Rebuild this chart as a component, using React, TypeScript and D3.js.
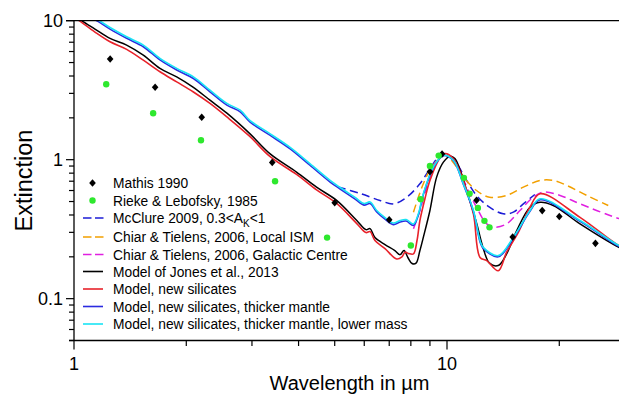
import React from "react";
import * as d3 from "d3";

type P = [number, number];

// ---- Data (wavelength in µm, extinction) ----
const mathis: P[] = [
  [1.25, 5.3], [1.65, 3.32], [2.2, 2.02], [3.4, 0.956], [5.0, 0.49], [7.0, 0.37],
  [9.0, 0.82], [9.7, 1.1], [12.0, 0.51], [15.0, 0.278], [18.0, 0.43], [20.0, 0.39], [25.0, 0.25],
];

const rieke: P[] = [
  [1.22, 3.49], [1.63, 2.16], [2.19, 1.38], [3.46, 0.7], [4.77, 0.275], [8.0, 0.241],
  [8.5, 0.52], [9.0, 0.9], [9.5, 1.07], [11.1, 0.74], [11.5, 0.57], [12.1, 0.45], [12.6, 0.363], [13.0, 0.326],
];

const mcclure: P[] = [
  [5.1, 0.637], [5.85, 0.571], [6.61, 0.509], [7.18, 0.481], [7.8, 0.537], [8.46, 0.671], [9.0, 0.861],
  [9.48, 1.044], [9.88, 1.105], [10.4, 1.017], [11.29, 0.709], [12.0, 0.553], [13.0, 0.455],
  [14.15, 0.408], [15.06, 0.419], [16.02, 0.481], [17.2, 0.562],
];

const chiarLocal: P[] = [
  [8.13, 0.419], [8.64, 0.671], [9.17, 0.91], [9.88, 1.074], [10.62, 0.884], [11.17, 0.729], [12.0, 0.6],
  [13.0, 0.537], [14.45, 0.553], [16.02, 0.634], [17.76, 0.709], [19.27, 0.709], [20.94, 0.653],
  [23.69, 0.553], [27.06, 0.468],
];

const chiarGC: P[] = [
  [8.13, 0.318], [8.46, 0.431], [9.0, 0.749], [9.4, 0.99], [9.88, 1.074], [10.62, 0.936], [11.29, 0.634],
  [12.0, 0.455], [12.78, 0.345], [13.45, 0.327], [14.45, 0.345], [15.69, 0.431], [17.03, 0.537],
  [18.13, 0.584], [20.1, 0.553], [22.73, 0.481], [28.9, 0.377], [30, 0.37],
];

const jones: P[] = [
  [1.0, 10.9], [1.042, 10.1], [1.138, 8.71], [1.249, 7.46], [1.384, 6.68], [1.534, 5.65], [1.7, 4.54],
  [1.885, 3.94], [2.08, 3.34], [2.315, 2.68], [2.57, 2.16], [2.96, 1.54], [3.35, 1.105], [3.95, 0.814],
  [4.47, 0.634], [5.06, 0.509], [5.73, 0.365], [6.06, 0.314], [6.22, 0.319], [6.41, 0.275], [6.82, 0.245],
  [7.25, 0.222], [7.48, 0.207], [7.67, 0.222], [7.86, 0.197], [8.06, 0.179], [8.26, 0.18], [8.46, 0.222],
  [8.64, 0.276], [9.0, 0.431], [9.38, 0.749], [9.78, 0.961], [10.2, 1.06], [10.5, 1.02], [10.83, 0.85],
  [11.29, 0.6], [12.0, 0.35], [12.51, 0.23], [13.0, 0.18], [13.72, 0.173], [14.45, 0.21], [15.38, 0.309],
  [16.69, 0.455], [17.76, 0.494], [19.27, 0.468], [22.73, 0.345], [28.9, 0.234], [30, 0.225],
];

const newSil: P[] = [
  [1.0, 10.6], [1.042, 9.84], [1.138, 8.28], [1.249, 7.05], [1.384, 6.22], [1.534, 5.2], [1.7, 4.29],
  [1.885, 3.63], [2.09, 3.07], [2.315, 2.54], [2.57, 2.03], [2.96, 1.47], [3.35, 1.056], [3.95, 0.783],
  [4.47, 0.606], [5.06, 0.484], [5.73, 0.347], [6.06, 0.299], [6.22, 0.304], [6.41, 0.262], [6.82, 0.229],
  [7.33, 0.193], [7.57, 0.2], [7.72, 0.216], [7.9, 0.211], [8.13, 0.21], [8.31, 0.262], [8.46, 0.365],
  [8.73, 0.526], [9.0, 0.709], [9.6, 1.04], [9.88, 1.105], [10.4, 1.017], [11.06, 0.709], [11.77, 0.408],
  [12.26, 0.198], [12.78, 0.188], [13.72, 0.159], [14.45, 0.216], [15.53, 0.3], [16.69, 0.455],
  [17.76, 0.569], [22.73, 0.385], [28.9, 0.241], [30, 0.232],
];

const thickMantle: P[] = [
  [1.1, 10.6], [1.162, 9.85], [1.249, 8.7], [1.384, 7.47], [1.534, 6.5], [1.7, 5.22], [1.885, 4.42],
  [2.09, 3.84], [2.315, 3.08], [2.57, 2.47], [2.79, 2.21], [2.96, 1.87], [3.35, 1.5], [3.79, 1.2],
  [4.29, 0.912], [4.86, 0.69], [5.17, 0.615], [5.67, 0.52], [5.99, 0.471], [6.22, 0.483], [6.48, 0.42],
  [6.82, 0.373], [7.18, 0.341], [7.48, 0.356], [7.77, 0.362], [8.13, 0.337], [8.38, 0.4], [8.64, 0.56],
  [9.19, 0.875], [9.78, 1.07], [10.4, 0.985], [11.06, 0.665], [11.77, 0.425], [12.26, 0.257], [12.51, 0.23],
  [13.72, 0.2], [15.06, 0.272], [16.69, 0.425], [17.76, 0.515], [22.73, 0.36], [28.9, 0.238], [30, 0.23],
];

const lowerMass: P[] = [
  [1.1, 10.9], [1.162, 10.1], [1.249, 8.93], [1.384, 7.66], [1.534, 6.68], [1.7, 5.36], [1.885, 4.54],
  [2.09, 3.94], [2.315, 3.16], [2.57, 2.54], [2.79, 2.27], [2.96, 1.92], [3.35, 1.54], [3.79, 1.23],
  [4.29, 0.936], [4.86, 0.709], [5.17, 0.631], [5.67, 0.535], [5.99, 0.484], [6.22, 0.496], [6.48, 0.431],
  [6.82, 0.383], [7.18, 0.35], [7.48, 0.365], [7.77, 0.371], [8.13, 0.345], [8.38, 0.408], [8.64, 0.569],
  [9.19, 0.884], [9.78, 1.074], [10.4, 0.99], [11.06, 0.671], [11.77, 0.431], [12.26, 0.262], [12.51, 0.234],
  [13.72, 0.204], [15.06, 0.276], [16.69, 0.431], [17.76, 0.523], [22.73, 0.365], [28.9, 0.241], [30, 0.232],
];

const xMajor = [1, 10];
const xMinor = [2, 3, 4, 5, 6, 7, 8, 9, 20, 30];
const yMajor = [0.1, 1, 10];
const yMinor = [0.05, 0.06, 0.07, 0.08, 0.09, 0.2, 0.3, 0.4, 0.5, 0.6, 0.7, 0.8, 0.9, 2, 3, 4, 5, 6, 7, 8, 9];

const legendLabels = [
  "Mathis 1990",
  "Rieke & Lebofsky, 1985",
  "McClure 2009, 0.3<A",
  "Chiar & Tielens, 2006, Local ISM",
  "Chiar & Tielens, 2006, Galactic Centre",
  "Model of Jones et al., 2013",
  "Model, new silicates",
  "Model, new silicates, thicker mantle",
  "Model, new silicates, thicker mantle, lower mass",
];

const COL = {
  black: "#000000",
  green: "#2ee82e",
  mcclure: "#1c1cd6",
  orange: "#f2a000",
  magenta: "#e020e0",
  red: "#e8222a",
  blue: "#2b2be0",
  cyan: "#18e4f4",
};

const W = 619;
const H = 394;
const FONT = "'Liberation Sans', Arial, Helvetica, sans-serif";

export default function App() {
  const x = d3.scaleLog().domain([1, 30]).range([74, 74 + 373 * Math.log10(30)]);
  const y = d3.scaleLog().domain([0.05, 10]).range([340.5, 20.7]);
  const x0 = x(1);
  const yTop = y(10);
  const yBot = y(0.05);
  const xEnd = x(30);

  const line = d3
    .line<P>()
    .x((d) => x(d[0]))
    .y((d) => y(d[1]))
    .curve(d3.curveCatmullRom.alpha(0.5));

  const series: { data: P[]; color: string; dash?: string; w: number }[] = [
    { data: mcclure, color: COL.mcclure, dash: "8,4.5", w: 1.5 },
    { data: chiarLocal, color: COL.orange, dash: "8,4.5", w: 1.5 },
    { data: chiarGC, color: COL.magenta, dash: "8,4.5", w: 1.5 },
    { data: jones, color: COL.black, w: 1.5 },
    { data: newSil, color: COL.red, w: 1.6 },
    { data: thickMantle, color: COL.blue, w: 1.6 },
    { data: lowerMass, color: COL.cyan, w: 1.6 },
  ];

  const legendKinds = [
    { kind: "diamond", color: COL.black },
    { kind: "dot", color: COL.green },
    { kind: "dash", color: COL.mcclure },
    { kind: "dash", color: COL.orange },
    { kind: "dash", color: COL.magenta },
    { kind: "line", color: COL.black },
    { kind: "line", color: COL.red },
    { kind: "line", color: COL.blue },
    { kind: "line", color: COL.cyan },
  ];
  const legendY = (i: number) => 183 + i * 17.5 + (i >= 3 ? 1.5 : 0) - (i >= 5 ? 0.5 : 0);

  const diamond = "M0,-3.8L3.3,0L0,3.8L-3.3,0Z";

  return (
    <svg width={W} height={H} style={{ display: "block", position: "absolute", left: 0, top: 0 }} fontFamily={FONT}>
      <defs>
        <clipPath id="plotClip">
          <rect x={x0} y={yTop} width={xEnd - x0} height={yBot - yTop} />
        </clipPath>
      </defs>
      <rect width={W} height={H} fill="#fff" />

      <g clipPath="url(#plotClip)">
        {series.map((s, i) => (
          <path
            key={i}
            d={line(s.data) || ""}
            fill="none"
            stroke={s.color}
            strokeWidth={s.w}
            strokeDasharray={s.dash}
            strokeLinejoin="round"
          />
        ))}
        {mathis.map((d, i) => (
          <path key={"m" + i} d={diamond} transform={`translate(${x(d[0])},${y(d[1])})`} fill={COL.black} />
        ))}
        {rieke.map((d, i) => (
          <circle key={"r" + i} cx={x(d[0])} cy={y(d[1])} r={3.2} fill={COL.green} />
        ))}
      </g>

      {/* frame */}
      <line x1={x0} x2={x0} y1={yTop} y2={yBot} stroke="#000" strokeWidth={1.3} />
      <line x1={x0 - 5} x2={xEnd} y1={yBot} y2={yBot} stroke="#000" strokeWidth={1.3} />
      <line x1={x0 - 8} x2={xEnd} y1={yTop} y2={yTop} stroke="#000" strokeWidth={1.3} />

      {/* y ticks */}
      {yMajor.map((v) => (
        <g key={"ym" + v}>
          <line x1={x0 - 8} x2={x0} y1={y(v)} y2={y(v)} stroke="#000" strokeWidth={1.2} />
          <text x={x0 - 11} y={y(v) + 6.5} textAnchor="end" fontSize={18}>
            {v}
          </text>
        </g>
      ))}
      {yMinor.map((v) => (
        <line key={"yn" + v} x1={x0 - 5} x2={x0} y1={y(v)} y2={y(v)} stroke="#000" strokeWidth={1.2} />
      ))}

      {/* x ticks */}
      {xMajor.map((v) => (
        <g key={"xm" + v}>
          <line x1={x(v)} x2={x(v)} y1={yBot} y2={yBot + 9} stroke="#000" strokeWidth={1.2} />
          <text x={x(v)} y={370} textAnchor="middle" fontSize={18}>
            {v}
          </text>
        </g>
      ))}
      {xMinor.map((v) => (
        <line key={"xn" + v} x1={x(v)} x2={x(v)} y1={yBot} y2={yBot + 5.5} stroke="#000" strokeWidth={1.2} />
      ))}

      {/* axis titles */}
      <text x={(x0 + xEnd) / 2} y={390} textAnchor="middle" fontSize={20}>
        Wavelength in µm
      </text>
      <text transform={`translate(32,${(yTop + yBot) / 2}) rotate(-90)`} textAnchor="middle" fontSize={23.5}>
        Extinction
      </text>

      {/* legend */}
      {legendKinds.map((k, i) => {
        const ly = legendY(i);
        return (
          <g key={"lg" + i}>
            {k.kind === "diamond" && <path d={diamond} transform={`translate(92.5,${ly})`} fill={k.color} />}
            {k.kind === "dot" && <circle cx={92.5} cy={ly} r={3.2} fill={k.color} />}
            {k.kind === "dash" && (
              <line x1={83} x2={103.5} y1={ly} y2={ly} stroke={k.color} strokeWidth={1.5} strokeDasharray="8.5,3.5" />
            )}
            {k.kind === "line" && <line x1={83} x2={103} y1={ly} y2={ly} stroke={k.color} strokeWidth={1.6} />}
            <text x={113} y={ly + 5} fontSize={13.8}>
              {legendLabels[i]}
              {i === 2 && (
                <>
                  <tspan fontSize={10} dy={4}>
                    K
                  </tspan>
                  <tspan dy={-4}>{"<1"}</tspan>
                </>
              )}
            </text>
          </g>
        );
      })}
    </svg>
  );
}
